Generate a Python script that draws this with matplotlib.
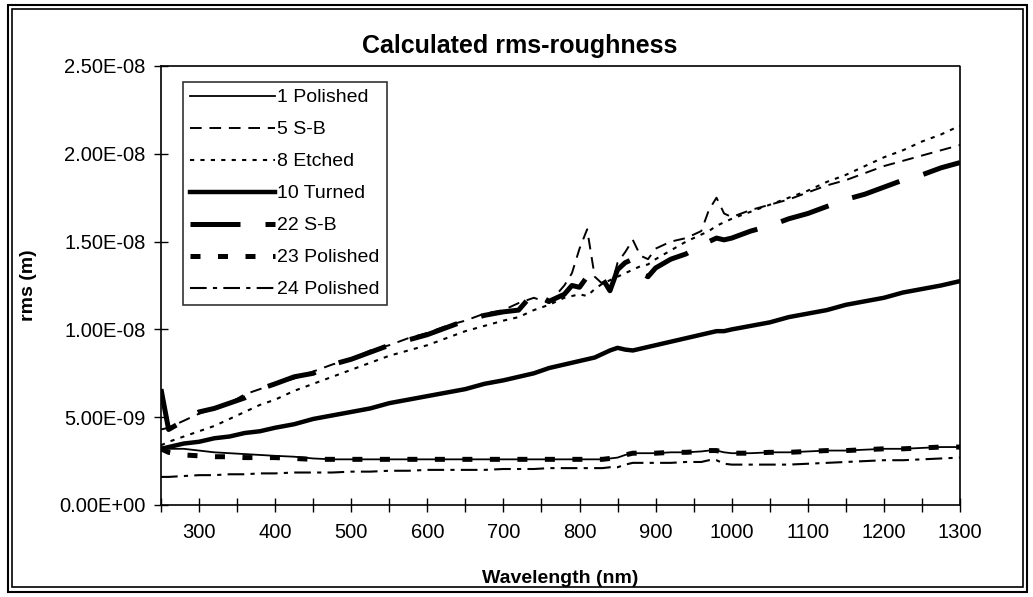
import numpy as np
import matplotlib as mpl
mpl.use('Agg')
import matplotlib.pyplot as plt
from matplotlib.patches import Rectangle
from matplotlib.ticker import FuncFormatter, MultipleLocator

plt.rcParams['font.family'] = ['Liberation Sans', 'DejaVu Sans']

# wavelength grid (nm) and rms values (in 1e-9 m)
wavelength = [250, 260, 280, 300, 320, 340, 360, 380, 400, 425, 450, 475, 500, 525,
              550, 575, 600, 625, 650, 675, 700, 720, 740, 760, 780, 790, 800, 810,
              820, 830, 840, 850, 860, 870, 880, 890, 900, 920, 940, 960, 970, 980,
              990, 1000, 1025, 1050, 1075, 1100, 1125, 1150, 1175, 1200, 1225, 1250,
              1275, 1300]

polished_1 = [3.2, 3.2, 3.2, 3.1, 3.0, 2.95, 2.9, 2.85, 2.8, 2.75, 2.65, 2.6, 2.6, 2.6,
              2.6, 2.6, 2.6, 2.6, 2.6, 2.6, 2.6, 2.6, 2.6, 2.6, 2.6, 2.6, 2.6, 2.6,
              2.6, 2.6, 2.65, 2.7, 2.85, 2.95, 2.95, 2.95, 2.95, 3.0, 3.0, 3.05, 3.1, 3.1,
              3.0, 2.95, 2.95, 3.0, 3.0, 3.05, 3.1, 3.1, 3.15, 3.2, 3.2, 3.25,
              3.3, 3.3]

sb_5 = [4.3, 4.4, 4.8, 5.2, 5.5, 5.8, 6.3, 6.6, 6.9, 7.2, 7.6, 8.0, 8.3, 8.8,
        9.1, 9.5, 9.8, 10.2, 10.5, 10.9, 11.1, 11.5, 11.8, 11.5, 12.5, 13.2, 14.6, 15.7,
        13.0, 12.6, 12.2, 13.8, 14.4, 15.1, 14.2, 14.0, 14.6, 15.0, 15.2, 15.6, 16.8, 17.5,
        16.6, 16.4, 16.8, 17.1, 17.4, 17.8, 18.2, 18.5, 18.9, 19.3, 19.6, 19.9,
        20.2, 20.5]

etched_8 = [3.4, 3.6, 3.9, 4.2, 4.5, 4.9, 5.3, 5.7, 6.0, 6.5, 6.9, 7.3, 7.7, 8.1,
            8.5, 8.8, 9.1, 9.5, 9.9, 10.2, 10.5, 10.7, 11.1, 11.4, 11.8, 11.9, 12.0, 11.9,
            12.3, 12.6, 12.8, 13.0, 13.2, 13.4, 13.6, 13.7, 14.0, 14.5, 15.0, 15.4, 15.6, 15.9,
            16.1, 16.3, 16.7, 17.1, 17.5, 17.9, 18.4, 18.8, 19.3, 19.8, 20.2, 20.7,
            21.1, 21.6]

turned_10 = [3.2, 3.3, 3.5, 3.6, 3.8, 3.9, 4.1, 4.2, 4.4, 4.6, 4.9, 5.1, 5.3, 5.5,
             5.8, 6.0, 6.2, 6.4, 6.6, 6.9, 7.1, 7.3, 7.5, 7.8, 8.0, 8.1, 8.2, 8.3,
             8.4, 8.6, 8.8, 8.95, 8.85, 8.8, 8.9, 9.0, 9.1, 9.3, 9.5, 9.7, 9.8, 9.9,
             9.9, 10.0, 10.2, 10.4, 10.7, 10.9, 11.1, 11.4, 11.6, 11.8, 12.1, 12.3,
             12.5, 12.75]

sb_22 = [6.6, 4.3, 4.8, 5.3, 5.5, 5.8, 6.1, 6.6, 6.9, 7.3, 7.5, 8.0, 8.3, 8.7,
         9.1, 9.4, 9.7, 10.1, 10.5, 10.8, 11.0, 11.1, 12.1, 11.6, 12.0, 12.5, 12.4, 13.0,
         12.6, 12.9, 12.2, 13.4, 13.8, 14.0, 13.2, 13.0, 13.5, 14.0, 14.3, 14.8, 15.0, 15.2,
         15.1, 15.2, 15.6, 15.9, 16.3, 16.6, 17.0, 17.4, 17.7, 18.1, 18.5, 18.8,
         19.2, 19.5]

polished_23 = [3.2, 3.0, 2.85, 2.8, 2.75, 2.75, 2.7, 2.7, 2.7, 2.65, 2.6, 2.6, 2.6, 2.6,
               2.6, 2.6, 2.6, 2.6, 2.6, 2.6, 2.6, 2.6, 2.6, 2.6, 2.6, 2.6, 2.6, 2.6,
               2.6, 2.6, 2.65, 2.7, 2.85, 2.95, 2.95, 2.95, 2.95, 3.0, 3.0, 3.05, 3.1, 3.1,
               3.0, 2.95, 2.95, 3.0, 3.0, 3.05, 3.1, 3.1, 3.15, 3.2, 3.2, 3.25,
               3.3, 3.3]

polished_24 = [1.6, 1.6, 1.65, 1.7, 1.7, 1.75, 1.75, 1.8, 1.8, 1.85, 1.85, 1.85, 1.9, 1.9,
               1.95, 1.95, 2.0, 2.0, 2.0, 2.0, 2.05, 2.05, 2.05, 2.1, 2.1, 2.1, 2.1, 2.1,
               2.1, 2.1, 2.15, 2.15, 2.3, 2.4, 2.4, 2.4, 2.4, 2.4, 2.45, 2.45, 2.55, 2.55,
               2.35, 2.3, 2.3, 2.3, 2.3, 2.35, 2.4, 2.45, 2.5, 2.55, 2.55, 2.6,
               2.65, 2.7]

series_labels = ['1 Polished', '5 S-B', '8 Etched', '10 Turned', '22 S-B', '23 Polished', '24 Polished']
series_values = [polished_1, sb_5, etched_8, turned_10, sb_22, polished_23, polished_24]
series_styles = [('-', 1.3), ((0, (6, 4)), 1.4), ((0, (2, 3)), 1.5), ('-', 3.2),
                 ((0, (10, 5)), 3.6), ((0, (2, 3.5)), 3.6), ((0, (8, 3, 2, 3)), 1.5)]

fg = plt.figure(figsize=(10.33, 5.97), dpi=100)
ax = fg.add_axes([161/1033, 1-505/597, (960-161)/1033, (505-66)/597])

x = np.array(wavelength)
for lab, vals, (ls, lw) in zip(series_labels, series_values, series_styles):
    ax.plot(x, np.array(vals)*1e-9, color='black', linestyle=ls, linewidth=lw, label=lab)

ax.set_xlim(250, 1300)
ax.set_ylim(0, 2.5e-8)
ax.xaxis.set_major_locator(MultipleLocator(100))
ax.xaxis.set_minor_locator(MultipleLocator(50))
ax.set_xticks(range(300, 1301, 100))
ax.yaxis.set_major_locator(MultipleLocator(5e-9))
ax.yaxis.set_major_formatter(FuncFormatter(lambda v, p: '{:.2E}'.format(v)))
ax.tick_params(which='both', direction='inout', length=10, width=1, labelsize=14.5)
ax.tick_params(axis='y', pad=6)
ax.tick_params(axis='x', pad=8)

for s in ['top', 'right']:
    ax.spines[s].set_linestyle((0, (1, 1)))
    ax.spines[s].set_linewidth(1.2)
for s in ['left', 'bottom']:
    ax.spines[s].set_linewidth(1.2)

ax.set_xlabel('Wavelength (nm)', fontsize=14, fontweight='bold', labelpad=20)
ax.set_ylabel('rms (m)', fontsize=14, fontweight='bold', labelpad=16)
fg.text(520/1033, 1-46/597, 'Calculated rms-roughness', fontsize=18, fontweight='bold',
        ha='center', va='center')

leg = ax.legend(loc='upper left', bbox_to_anchor=(183/1033, 1-82/597), bbox_transform=fg.transFigure,
                fontsize=14, handlelength=4.4, handletextpad=0.1, labelspacing=0.74,
                borderpad=0.35, borderaxespad=0, fancybox=False, frameon=True)
leg.get_frame().set_edgecolor('black')
leg.get_frame().set_linewidth(1.2)

# double outer border of the chart
fg.patches.append(Rectangle((8/1033, 5/597), (1027-8)/1033, (592-5)/597, transform=fg.transFigure,
                            fill=False, edgecolor='black', linewidth=1.5))
fg.patches.append(Rectangle((12/1033, 10/597), (1023-12)/1033, (588-10)/597, transform=fg.transFigure,
                            fill=False, edgecolor='black', linewidth=1.2))

fg.savefig('out.png', dpi=100)
